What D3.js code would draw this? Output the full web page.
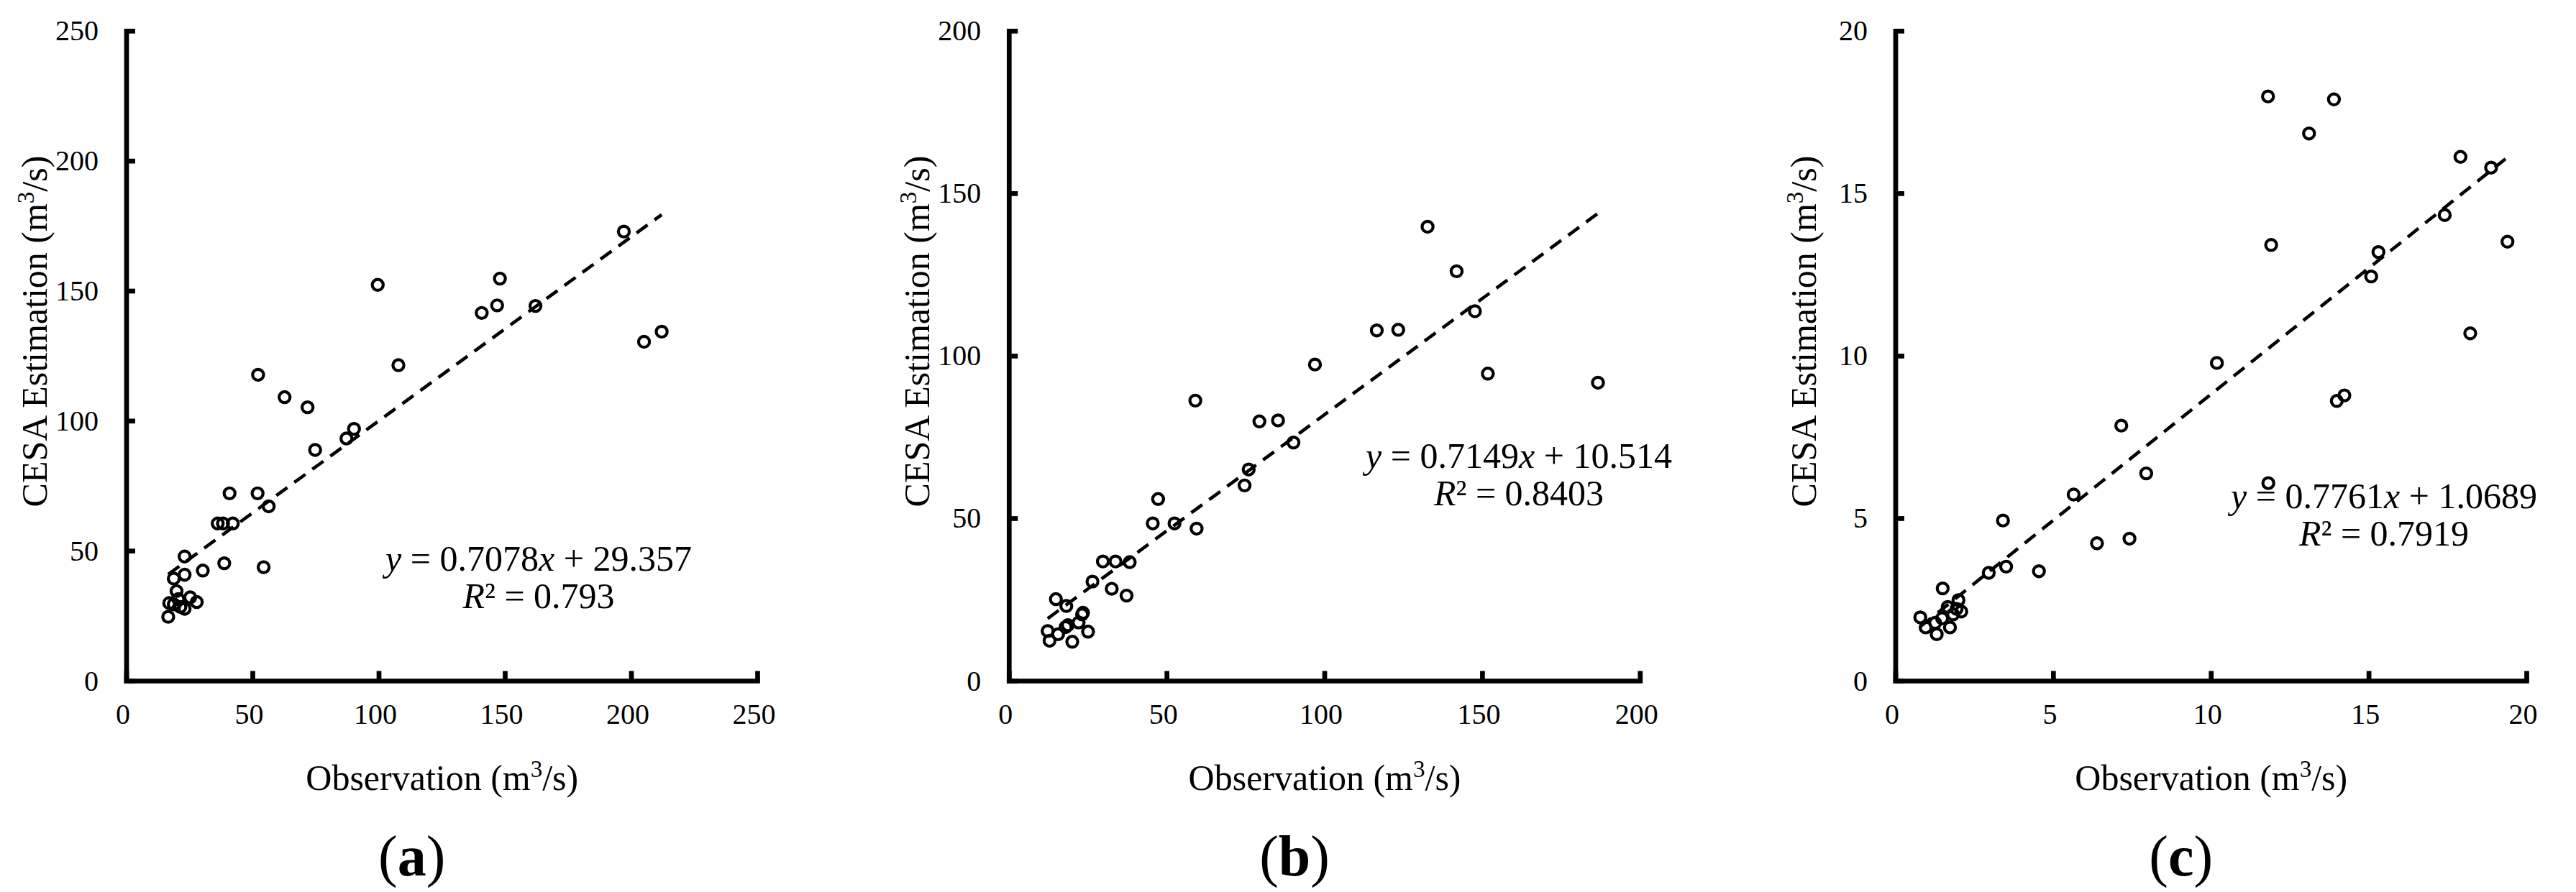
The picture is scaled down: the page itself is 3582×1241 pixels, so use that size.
<!DOCTYPE html>
<html>
<head>
<meta charset="utf-8">
<script src="https://cdn.jsdelivr.net/npm/d3@7/dist/d3.min.js"></script>
<style>
  html, body { margin: 0; padding: 0; background: #fff; }
  svg { display: block; }
  text { font-family: "Liberation Serif", "Times New Roman", serif; fill: #000; }
</style>
</head>
<body>
<svg id="chart" width="3582" height="1241"></svg>
<script>
// ---------- DATA ----------
// Panel (a)
const obsA = [197.0,147.9,146.8,140.7,162.0,99.5,107.7,205.0,212.0,52.1,62.6,71.7,90.1,87.1,74.7,40.8,51.9,56.3,36.1,38.2,42.1,38.7,54.3,23.0,30.2,23.0,18.7,19.8,25.2,27.8,16.9,18.7,21.3,23.0,16.5,20.5];
const estA = [172.9,154.8,144.5,141.6,144.3,152.4,121.5,130.5,134.4,117.8,109.2,105.3,97.0,93.3,88.9,72.2,72.2,67.2,60.6,60.6,60.6,45.3,43.8,47.9,42.5,40.9,39.4,34.6,32.2,30.4,30.0,29.5,28.5,27.8,24.7,31.5];
// Panel (b)
const obsB = [132.6,141.8,147.6,116.5,123.3,151.7,186.6,96.9,59.0,79.3,85.2,90.1,75.9,74.6,47.2,45.5,52.4,59.4,29.7,33.7,38.2,26.4,32.5,37.2,14.8,18.1,23.4,23.1,22.0,18.6,17.9,12.2,25.0,15.5,12.8,20.0];
const estB = [139.8,126.1,113.8,107.9,108.1,94.6,91.8,97.4,86.3,79.9,80.2,73.4,65.1,60.2,56.0,48.5,48.5,46.9,36.8,36.8,36.6,30.6,28.4,26.3,25.2,23.1,21.0,20.5,18.0,17.2,16.6,15.4,15.2,14.4,12.4,12.1];
// Panel (c)
const obsC = [11.80,13.89,13.10,17.90,18.87,17.40,19.39,11.90,15.30,15.07,18.21,10.18,13.98,14.22,7.15,7.94,11.81,5.64,3.40,6.38,7.41,3.50,2.95,4.54,1.49,1.99,1.65,1.93,2.08,1.82,0.78,1.47,1.25,0.95,1.72,1.30];
const estC = [17.99,17.90,16.85,16.13,15.80,14.34,13.52,13.42,13.20,12.45,10.70,9.79,8.62,8.79,7.86,6.39,6.09,5.74,4.94,4.24,4.38,3.52,3.33,3.38,2.85,2.49,2.28,2.22,2.14,2.05,1.96,1.93,1.79,1.65,1.65,1.44];

// Tick values
const ticksA = [0,50,100,150,200,250];
const ticksB = [0,50,100,150,200];
const ticksC = [0,5,10,15,20];

// Trend line coefficients [slope, intercept] and equation texts
const fitA = [0.7078, 29.357];
const fitB = [0.7149, 10.514];
const fitC = [0.7761, 1.0689];
const eqTextA = ["0.7078", "29.357", "0.793"];
const eqTextB = ["0.7149", "10.514", "0.8403"];
const eqTextC = ["0.7761", "1.0689", "0.7919"];

const panelLabels = ["a", "b", "c"];
const xTitle = "Observation (m";
const yTitle = "CESA Estimation (m";
const unitSup = "3";
const unitTail = "/s)";

// ---------- LAYOUT ----------
const svg = d3.select("#chart");
svg.append("rect").attr("width", 3582).attr("height", 1241).attr("fill", "#fff");

const plotTop = 43.3, plotBottom = 947.5, plotW = 877.5;
const panels = [
  { obs: obsA, est: estA, ticks: ticksA, fit: fitA, eq: eqTextA, label: panelLabels[0], left: 176,    eqX: 749,  eqY: 794 },
  { obs: obsB, est: estB, ticks: ticksB, fit: fitB, eq: eqTextB, label: panelLabels[1], left: 1403.3, eqX: 2112, eqY: 651 },
  { obs: obsC, est: estC, ticks: ticksC, fit: fitC, eq: eqTextC, label: panelLabels[2], left: 2636,   eqX: 3315, eqY: 707 }
];

const axisW = 6.7;

panels.forEach(p => {
  const max = p.ticks[p.ticks.length - 1];
  const x = d3.scaleLinear().domain([0, max]).range([p.left, p.left + plotW]);
  const y = d3.scaleLinear().domain([0, max]).range([plotBottom, plotTop]);
  const g = svg.append("g");

  // axes lines
  g.append("line")
    .attr("x1", x(0)).attr("x2", x(max)).attr("y1", y(0)).attr("y2", y(0))
    .attr("stroke", "#000").attr("stroke-width", axisW).attr("stroke-linecap", "square");
  g.append("line")
    .attr("x1", x(0)).attr("x2", x(0)).attr("y1", y(0)).attr("y2", y(max))
    .attr("stroke", "#000").attr("stroke-width", axisW).attr("stroke-linecap", "square");

  // ticks (inside)
  g.selectAll(".xt").data(p.ticks).enter().append("line")
    .attr("x1", d => x(d)).attr("x2", d => x(d))
    .attr("y1", y(0)).attr("y2", y(0) - 14)
    .attr("stroke", "#000").attr("stroke-width", axisW);
  g.selectAll(".yt").data(p.ticks).enter().append("line")
    .attr("x1", x(0)).attr("x2", x(0) + 12)
    .attr("y1", d => y(d)).attr("y2", d => y(d))
    .attr("stroke", "#000").attr("stroke-width", axisW);

  // tick labels
  g.selectAll(".xl").data(p.ticks).enter().append("text")
    .attr("x", d => x(d) - 5).attr("y", 1007)
    .attr("text-anchor", "middle").attr("font-size", 40)
    .text(d => d);
  g.selectAll(".yl").data(p.ticks).enter().append("text")
    .attr("x", x(0) - 39).attr("y", d => y(d) + 13)
    .attr("text-anchor", "end").attr("font-size", 40)
    .text(d => d);

  // axis titles
  const cx = (x(0) + x(max)) / 2;
  const xt = g.append("text").attr("x", cx).attr("y", 1099)
    .attr("text-anchor", "middle").attr("font-size", 50);
  xt.append("tspan").text(xTitle);
  xt.append("tspan").attr("font-size", 33).attr("dy", -18).text(unitSup);
  xt.append("tspan").attr("dy", 18).text(unitTail);

  const yt = g.append("text")
    .attr("transform", `translate(${x(0) - 111},461) rotate(-90)`)
    .attr("text-anchor", "middle").attr("font-size", 50);
  yt.append("tspan").text(yTitle);
  yt.append("tspan").attr("font-size", 33).attr("dy", -18).text(unitSup);
  yt.append("tspan").attr("dy", 18).text(unitTail);

  // trend line (dashed) over data range
  const xmin = d3.min(p.obs), xmax = d3.max(p.obs);
  g.append("line")
    .attr("x1", x(xmin)).attr("y1", y(p.fit[0] * xmin + p.fit[1]))
    .attr("x2", x(xmax)).attr("y2", y(p.fit[0] * xmax + p.fit[1]))
    .attr("stroke", "#000").attr("stroke-width", 4.6)
    .attr("stroke-dasharray", "19,12");

  // points
  g.selectAll(".pt").data(p.obs.map((d, i) => [d, p.est[i]])).enter().append("circle")
    .attr("cx", d => x(d[0])).attr("cy", d => y(d[1])).attr("r", 7.6)
    .attr("fill", "none").attr("stroke", "#000").attr("stroke-width", 4.2);

  // equation
  const e1 = g.append("text").attr("x", p.eqX).attr("y", p.eqY)
    .attr("text-anchor", "middle").attr("font-size", 50);
  e1.append("tspan").attr("font-style", "italic").text("y");
  e1.append("tspan").text(" = " + p.eq[0]);
  e1.append("tspan").attr("font-style", "italic").text("x");
  e1.append("tspan").text(" + " + p.eq[1]);
  const e2 = g.append("text").attr("x", p.eqX).attr("y", p.eqY + 52)
    .attr("text-anchor", "middle").attr("font-size", 50);
  e2.append("tspan").attr("font-style", "italic").text("R");
  e2.append("tspan").text("² = " + p.eq[2]);

  // panel label
  const lb = g.append("text").attr("x", cx - 42).attr("y", 1218)
    .attr("text-anchor", "middle").attr("font-size", 80);
  lb.append("tspan").text("(");
  lb.append("tspan").attr("font-weight", "bold").text(p.label);
  lb.append("tspan").text(")");
});
</script>
</body>
</html>
